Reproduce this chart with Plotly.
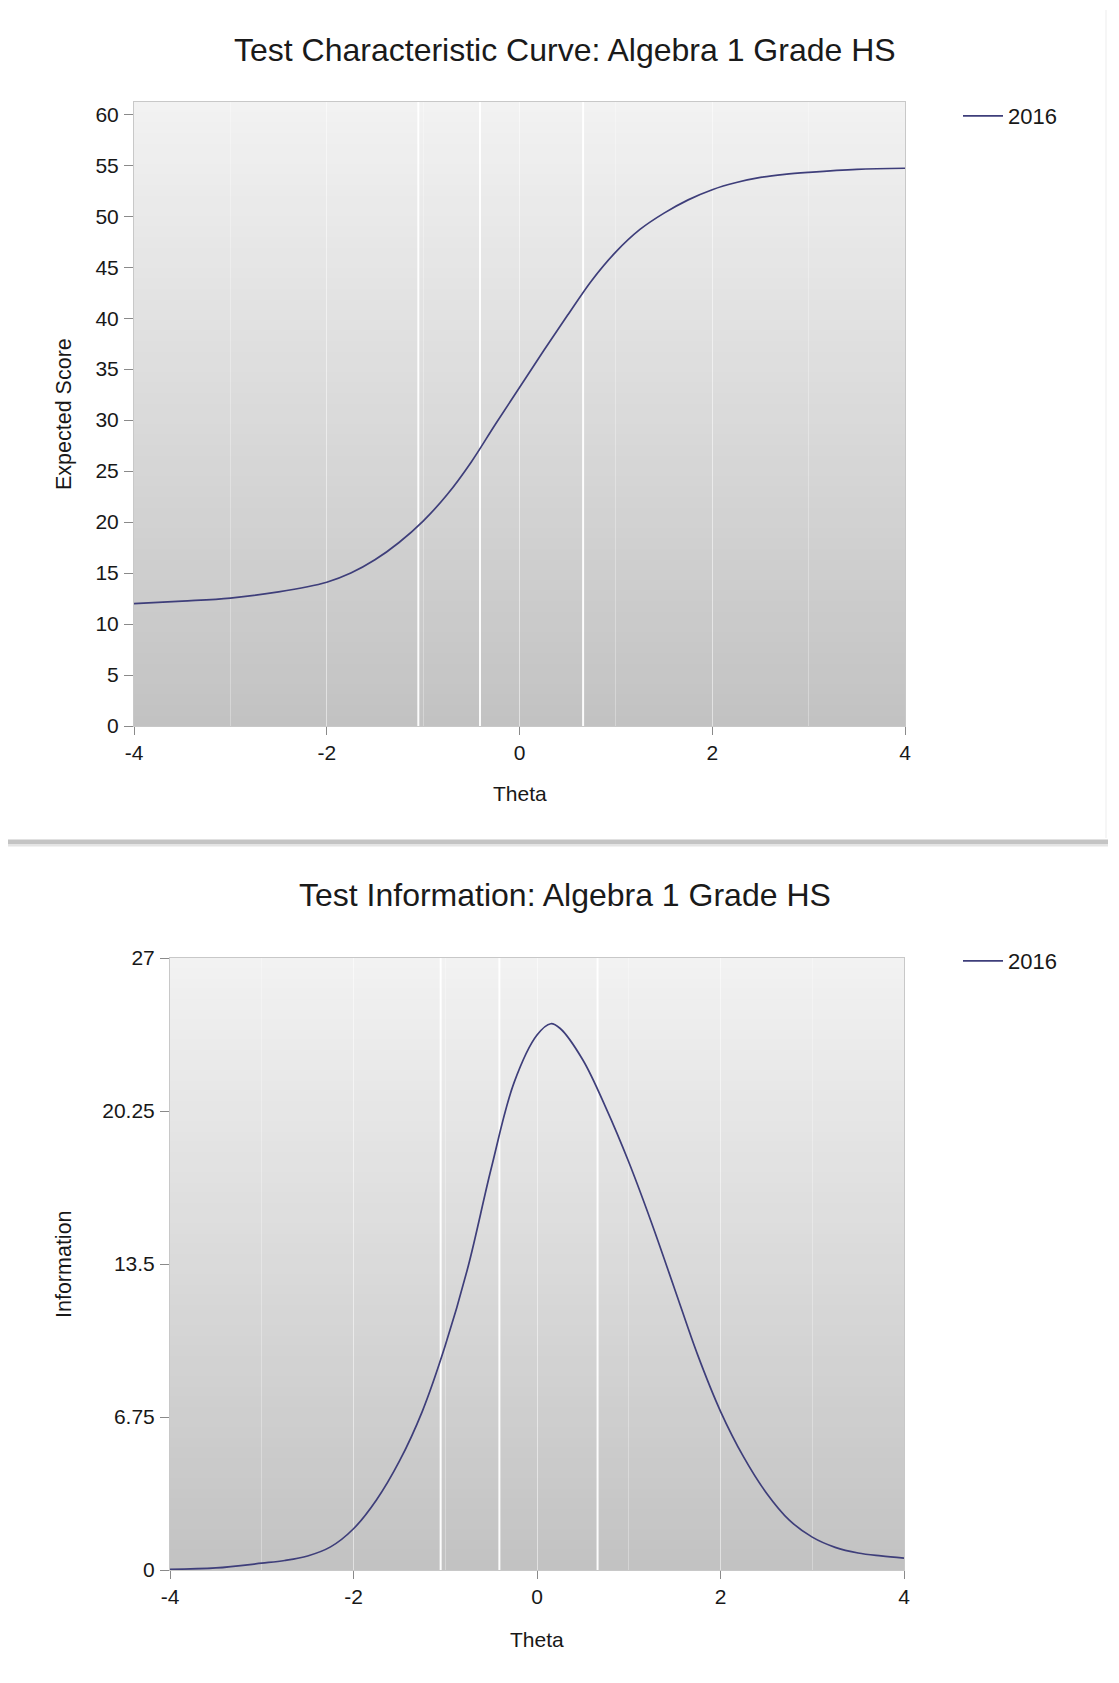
import plotly.graph_objects as go

# ---------------- data ----------------
series_name = "2016"
cut_scores = [-1.05, -0.41, 0.66]

theta_tcc = [-4, -3.5, -3, -2.5, -2, -1.75, -1.5, -1.25, -1, -0.75, -0.5, -0.25,
             0, 0.25, 0.5, 0.75, 1, 1.25, 1.5, 1.75, 2, 2.25, 2.5, 2.75, 3, 3.5, 4]
expected_score = [12.0, 12.25, 12.55, 13.15, 14.1, 15.0, 16.3, 18.0, 20.1, 22.7, 25.9, 29.6,
                  33.2, 36.8, 40.3, 43.7, 46.5, 48.7, 50.3, 51.6, 52.6, 53.3, 53.8, 54.1,
                  54.3, 54.6, 54.7]

theta_info = [-4, -3.5, -3, -2.75, -2.5, -2.25, -2, -1.75, -1.5, -1.25, -1, -0.75, -0.5,
              -0.25, 0, 0.15, 0.25, 0.5, 0.75, 1, 1.25, 1.5, 1.75, 2, 2.25, 2.5, 2.75,
              3, 3.25, 3.5, 3.75, 4]
information = [0.03, 0.09, 0.30, 0.42, 0.62, 1.02, 1.82, 3.09, 4.8, 7.0, 9.9, 13.4, 17.7,
               21.5, 23.6, 24.1, 23.9, 22.5, 20.4, 18.0, 15.3, 12.4, 9.5, 7.0, 5.0, 3.4,
               2.2, 1.45, 1.0, 0.75, 0.62, 0.52]

x_ticks = [-4, -2, 0, 2, 4]
x_ticklabels = ["-4", "-2", "0", "2", "4"]
tcc_yticks = [0, 5, 10, 15, 20, 25, 30, 35, 40, 45, 50, 55, 60]
info_yticks = [0, 6.75, 13.5, 20.25, 27]
info_yticklabels = ["0", "6.75", "13.5", "20.25", "27"]

title_top = "Test Characteristic Curve: Algebra 1 Grade HS"
title_bottom = "Test Information: Algebra 1 Grade HS"

# ---------------- style ----------------
OFF = 8                       # default page margin around the figure
W, H = 1100, 1660             # figure kept inside the window so nothing overflows
FONT = "Liberation Sans, Arial, Helvetica, sans-serif"
TXT = "#181818"
LINE = "rgb(62,62,122)"


def px_y(p):
    return (H - (p - OFF)) / H


def px_x(p):
    return (p - OFF) / W


fig = go.Figure()
fig.add_trace(go.Scatter(x=theta_tcc, y=expected_score, mode="lines", name=series_name,
                         line=dict(color=LINE, width=1.7, shape="spline", smoothing=1.0),
                         xaxis="x", yaxis="y", legend="legend"))
fig.add_trace(go.Scatter(x=theta_info, y=information, mode="lines", name=series_name,
                         line=dict(color=LINE, width=1.7, shape="spline", smoothing=1.0),
                         xaxis="x2", yaxis="y2", legend="legend2"))

common_x = dict(range=[-4, 4], tickvals=x_ticks, ticktext=x_ticklabels, ticks="outside",
                ticklen=8, tickcolor="#8a8a8a", tickfont=dict(size=21, color=TXT, family=FONT),
                showline=True, linecolor="#c8c8c8", mirror=True, zeroline=False,
                showgrid=True, gridcolor="rgba(255,255,255,0.3)", gridwidth=1,
                minor=dict(dtick=1, showgrid=True, gridcolor="rgba(255,255,255,0.3)"),
                ticklabelstandoff=0, fixedrange=True, automargin=False)
common_y = dict(ticks="outside", ticklen=9, tickcolor="#8a8a8a",
                tickfont=dict(size=21, color=TXT, family=FONT),
                showline=True, linecolor="#c8c8c8", mirror=True, zeroline=False,
                showgrid=False, ticklabelstandoff=1, fixedrange=True, automargin=False)

top_dom_y = [px_y(726), px_y(102)]
bot_dom_y = [px_y(1570), px_y(958)]

fig.update_layout(
    width=W, height=H, margin=dict(l=0, r=0, t=0, b=0, pad=0, autoexpand=False),
    paper_bgcolor="white", plot_bgcolor="#d8d8d8",
    font=dict(family=FONT, color=TXT),
    xaxis=dict(domain=[px_x(134), px_x(905)], anchor="y", **common_x),
    yaxis=dict(domain=top_dom_y, anchor="x", range=[0, 61.2], tickvals=tcc_yticks, **common_y),
    xaxis2=dict(domain=[px_x(170), px_x(904)], anchor="y2", **common_x),
    yaxis2=dict(domain=bot_dom_y, anchor="x2", range=[0, 27], tickvals=info_yticks,
                ticktext=info_yticklabels, **common_y),
    legend=dict(x=px_x(958), y=px_y(116), xanchor="left", yanchor="middle", itemwidth=40,
                bgcolor="rgba(0,0,0,0)", font=dict(size=22, color=TXT, family=FONT)),
    legend2=dict(x=px_x(958), y=px_y(961), xanchor="left", yanchor="middle", itemwidth=40,
                 bgcolor="rgba(0,0,0,0)", font=dict(size=22, color=TXT, family=FONT)),
    showlegend=True,
)

shapes = []
# vertical gradient backgrounds (top light -> bottom darker)
N = 60
top_c, bot_c = (242, 242, 242), (194, 194, 194)
for xr, yr in (("x domain", "y domain"), ("x2 domain", "y2 domain")):
    for i in range(N):
        f = (i + 0.5) / N
        c = tuple(int(round(bot_c[k] + (top_c[k] - bot_c[k]) * f)) for k in range(3))
        shapes.append(dict(type="rect", xref=xr, yref=yr, x0=0, x1=1,
                           y0=i / N, y1=min(1, (i + 1) / N + 0.002), layer="below",
                           line=dict(width=0), fillcolor="rgb(%d,%d,%d)" % c))
# cut-score lines
for xr, yr in (("x", "y domain"), ("x2", "y2 domain")):
    for c in cut_scores:
        shapes.append(dict(type="line", xref=xr, yref=yr, x0=c, x1=c, y0=0, y1=1,
                           layer="below", line=dict(color="rgba(255,255,255,0.95)", width=2)))
# card separator shadow and faint card edge
shapes.append(dict(type="rect", xref="paper", yref="paper", x0=0, x1=1,
                   y0=px_y(846.5), y1=px_y(844), line=dict(width=0), fillcolor="#e4e4e4"))
shapes.append(dict(type="rect", xref="paper", yref="paper", x0=0, x1=1,
                   y0=px_y(844), y1=px_y(839.5), line=dict(width=0), fillcolor="#c4c4c4"))
shapes.append(dict(type="line", xref="paper", yref="paper", x0=px_x(1106), x1=px_x(1106),
                   y0=px_y(838), y1=px_y(10), line=dict(color="#ededed", width=1)))
fig.update_layout(shapes=shapes)

ann = []
ann.append(dict(text=title_top, xref="paper", yref="paper", x=px_x(565), y=px_y(50),
                showarrow=False, xanchor="center", yanchor="middle",
                font=dict(size=32, color="#1a1a1a", family=FONT)))
ann.append(dict(text=title_bottom, xref="paper", yref="paper", x=px_x(565), y=px_y(895),
                showarrow=False, xanchor="center", yanchor="middle",
                font=dict(size=32, color="#1a1a1a", family=FONT)))
ann.append(dict(text="Theta", xref="x domain", yref="paper", x=0.5, y=px_y(794),
                showarrow=False, xanchor="center", yanchor="middle",
                font=dict(size=21, color=TXT, family=FONT)))
ann.append(dict(text="Theta", xref="x2 domain", yref="paper", x=0.5, y=px_y(1639),
                showarrow=False, xanchor="center", yanchor="middle",
                font=dict(size=21, color=TXT, family=FONT)))
ann.append(dict(text="Expected Score", xref="paper", yref="paper", x=px_x(64), y=px_y(414),
                showarrow=False, xanchor="center", yanchor="middle", textangle=-90,
                font=dict(size=21.5, color=TXT, family=FONT)))
ann.append(dict(text="Information", xref="paper", yref="paper", x=px_x(64), y=px_y(1264),
                showarrow=False, xanchor="center", yanchor="middle", textangle=-90,
                font=dict(size=21.5, color=TXT, family=FONT)))
fig.update_layout(annotations=ann)

fig.write_html("out.html", config={"displayModeBar": False})
